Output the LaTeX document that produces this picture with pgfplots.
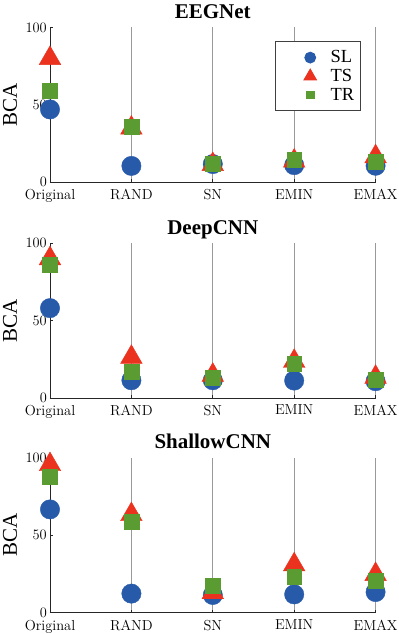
\documentclass[border=0pt]{standalone}
\usepackage{fontspec}
\usepackage{pgfplots}
\pgfplotsset{compat=1.18}
\newfontfamily\tnr{Liberation Serif}
\definecolor{cSL}{RGB}{40,90,170}
\definecolor{cTS}{RGB}{235,50,30}
\definecolor{cTR}{RGB}{90,155,50}

\pgfplotsset{
  panel/.style={
    width=326pt, height=155pt, scale only axis,
    xmin=0, xmax=4, ymin=0, ymax=100,
    enlargelimits=false, clip=false,
    axis lines=left,
    axis line style={-, draw=black!85, line width=0.8pt},
    xtick={0,1,2,3,4},
    xticklabels={Original,RAND,SN,EMIN,EMAX},
    ytick={0,50,100},
    tick align=inside,
    major tick length=3pt,
    tick style={draw=black!85, line width=0.8pt},
    xmajorgrids,
    grid style={draw=black!40, line width=0.6pt},
    ticklabel style={font=\fontsize{14.5}{17}\selectfont, inner sep=1pt},
    xticklabel style={yshift=-6pt},
    yticklabel style={xshift=-2pt},
    ylabel={BCA},
    ylabel style={font=\tnr\fontsize{21}{24}\selectfont, inner sep=3pt,
      at={([xshift=-40pt]axis description cs:0,0.5)}, anchor=center},
    every axis title shift=0pt,
    title style={font=\tnr\bfseries\fontsize{21}{24}\selectfont,
      inner sep=4.5pt,
      at={(axis description cs:0.5,1)}, anchor=base, yshift=9pt},
  },
  msl/.style={only marks, mark=*, mark size=9.7pt, color=cSL,
    legend image code/.code={\path (0pt,0) (48pt,0);
      \draw[##1, mark size=5.5pt] plot coordinates {(30pt,0)};}},
  mts/.style={only marks, mark=triangle*, mark size=12.5pt, color=cTS,
    legend image code/.code={\path (0pt,0) (48pt,0);
      \draw[##1, mark size=7.3pt] plot coordinates {(30pt,0)};}},
  mtr/.style={only marks, mark=square*, mark size=7.5pt, color=cTR,
    legend image code/.code={\path (0pt,0) (48pt,0);
      \draw[##1, mark size=3.7pt] plot coordinates {(30pt,0)};}},
}

\begin{document}
\begin{tikzpicture}

% EEGNet
\begin{axis}[panel, title={EEGNet},
  legend style={at={(rel axis cs:1,1)}, anchor=north east,
    xshift=-15pt, yshift=-14pt,
    draw=black!75, line width=0.8pt,
    font=\tnr\fontsize{18.5}{21}\selectfont,
    cells={anchor=west}, inner xsep=4pt, inner ysep=7pt,
    row sep=1pt},
]
\addplot[msl] coordinates {(0,47) (1,10.5) (2,11.7) (3,11.0) (4,10.6)};
\addlegendentry{SL}
\addplot[mts] coordinates {(0,80) (1,35) (2,11.5) (3,13.7) (4,16.5)};
\addlegendentry{TS}
\addplot[mtr] coordinates {(0,59) (1,36) (2,11.9) (3,14.4) (4,13.4)};
\addlegendentry{TR}
\end{axis}

% DeepCNN
\begin{axis}[panel, title={DeepCNN}, yshift=-216pt]
\addplot[msl] coordinates {(0,58) (1,11.4) (2,11.4) (3,11.2) (4,10.8)};
\addplot[mts] coordinates {(0,90) (1,26.3) (2,14.7) (3,23.7) (4,13.4)};
\addplot[mtr] coordinates {(0,86) (1,17) (2,13.3) (3,21.9) (4,11.6)};
\end{axis}

% ShallowCNN
\begin{axis}[panel, title={ShallowCNN}, yshift=-431pt]
\addplot[msl] coordinates {(0,66.7) (1,12.3) (2,11.4) (3,11.8) (4,13.3)};
\addplot[mts] coordinates {(0,95.7) (1,63.4) (2,13) (3,31) (4,24.7)};
\addplot[mtr] coordinates {(0,87.7) (1,59) (2,17.2) (3,23) (4,20.4)};
\end{axis}

\end{tikzpicture}
\end{document}
